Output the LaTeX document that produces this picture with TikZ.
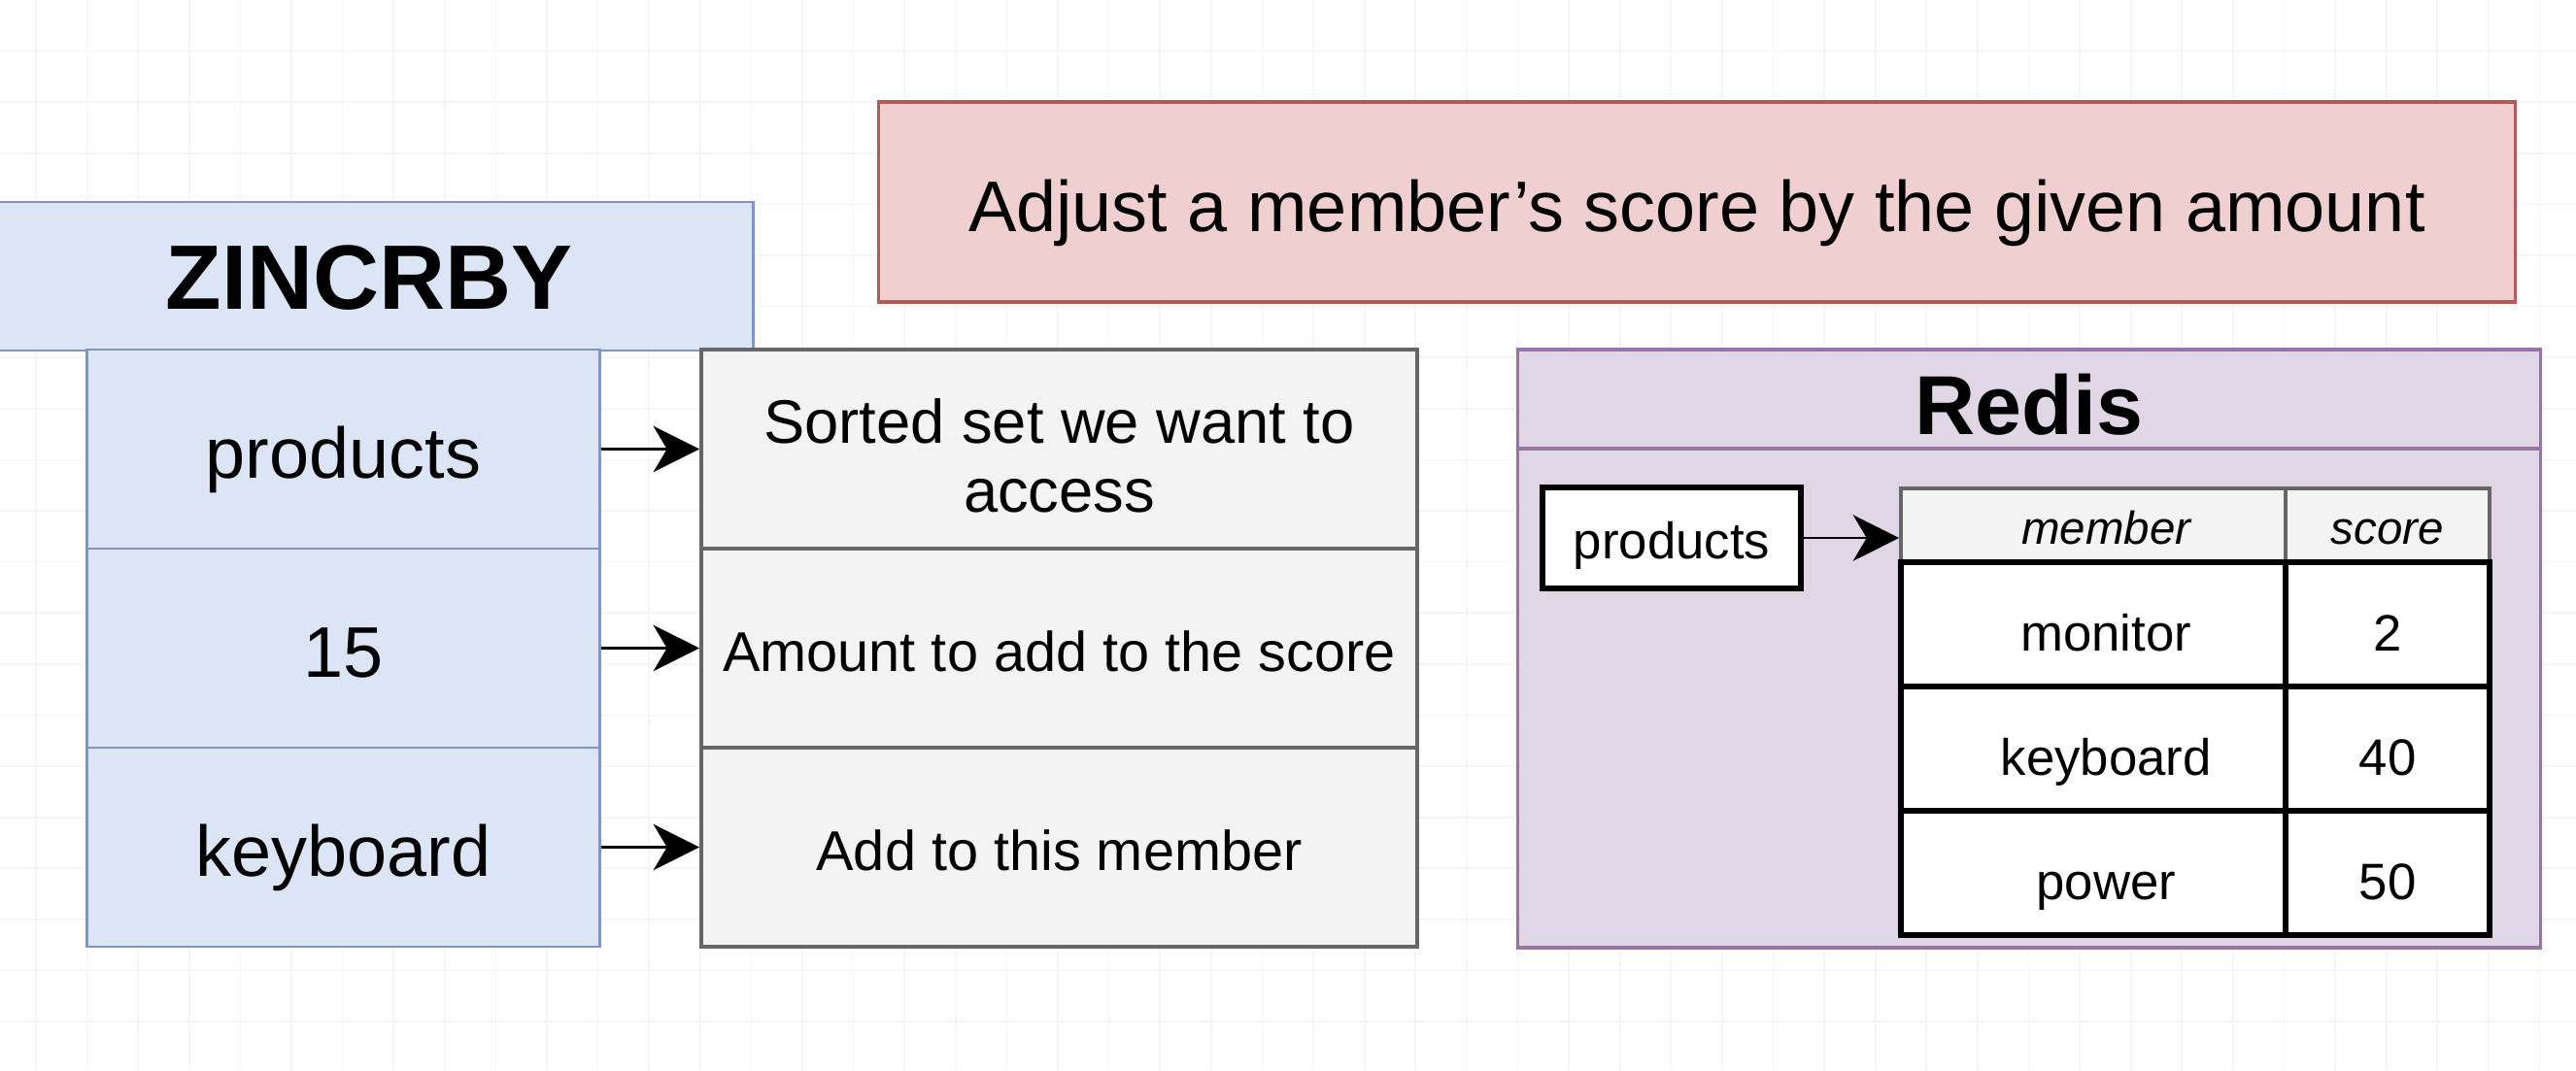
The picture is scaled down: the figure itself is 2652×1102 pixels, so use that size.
\documentclass[tikz,border=0pt]{standalone}
\usepackage{fontspec}
\setmainfont{Liberation Sans}
\usetikzlibrary{arrows.meta}
\definecolor{zblue}{HTML}{DCE5F5}
\definecolor{zblueline}{HTML}{7F95C2}
\definecolor{zgray}{HTML}{F3F3F3}
\definecolor{zgrayline}{HTML}{666666}
\definecolor{zred}{HTML}{EFCFCF}
\definecolor{zredline}{HTML}{B35A57}
\definecolor{zpurple}{HTML}{E0D6E6}
\definecolor{zpurpleline}{HTML}{9675A6}
\begin{document}
\begin{tikzpicture}[x=0.01cm,y=-0.01cm,inner sep=0pt,
  grid line/.style={draw=black!4,line width=0.5pt},
  arg node/.style={draw=zblueline,fill=zblue,line width=0.8pt,minimum width=5.27cm,minimum height=2.05cm,font=\fontsize{21}{24}\selectfont,text height=17.2pt,text depth=0pt},
  desc node/.style={draw=zgrayline,fill=zgray,line width=1pt,minimum width=7.37cm,minimum height=2.05cm,align=center,font=\fontsize{16.4}{20}\selectfont,text height=13.45pt,text depth=0pt},
  lane node/.style={draw=zpurpleline,fill=zpurple,line width=1pt,minimum width=10.52cm},
  head cell/.style={draw=zgrayline,fill=zgray,line width=1pt,minimum height=0.76cm,font=\fontsize{13.5}{16}\selectfont\itshape,text height=11.1pt,text depth=0pt},
  body cell/.style={draw=black,fill=white,line width=1.5pt,minimum height=1.28cm,font=\fontsize{15}{18}\selectfont,text height=15.4pt,text depth=0pt},
  member col/.style={minimum width=3.96cm,execute at begin node=\hspace*{7.5pt}},
  score col/.style={minimum width=2.10cm},
  conn/.style={-{Stealth[length=13.5pt,width=13.5pt,inset=4pt]},line width=0.8pt}]
  \useasboundingbox (0,0) rectangle (2652,1102);
  \fill[white] (0,0) rectangle (2652,1102);
  % background grid
  \foreach \gx in {0,...,49} \draw[grid line] (37+52.6*\gx,0) -- ++(0,1102);
  \foreach \gy in {1,...,20} \draw[grid line] (0,52.6*\gy) -- ++(2652,0);

  \node[draw=zblueline,fill=zblue,line width=0.8pt,minimum width=7.9cm,minimum height=1.53cm,font=\fontsize{26.8}{30}\selectfont\bfseries,text height=19.5pt,text depth=0pt] (cmd) at (380,284.5) {ZINCRBY};
  \node[arg node] (a1) at (353.5,462.5) {products};
  \node[arg node] (a2) at (353.5,667.5) {15};
  \node[arg node] (a3) at (353.5,872.5) {keyboard};

  \node[desc node,font=\fontsize{18}{20.2}\selectfont,text height=37.2pt,text depth=0pt] (d1) at (1090.5,462.5) {Sorted set we want to\\access};
  \node[desc node] (d2) at (1090.5,667.5) {Amount to add to the score};
  \node[desc node] (d3) at (1090.5,872.5) {Add to this member};

  \node[draw=zredline,fill=zred,line width=1pt,minimum width=16.84cm,minimum height=2.06cm,font=\fontsize{21}{24}\selectfont,text height=17.2pt,text depth=0pt] (info) at (1747,208) {Adjust a member's score by the given amount};

  \node[lane node,minimum height=1.02cm,font=\fontsize{24.5}{28}\selectfont\bfseries,text height=20.5pt,text depth=0pt] (redis) at (2089,411) {Redis};
  \node[lane node,minimum height=5.14cm] (lane) at (2089,719) {};

  \node[draw=black,fill=white,line width=1.5pt,minimum width=2.66cm,minimum height=1.04cm,font=\fontsize{15}{18}\selectfont,text height=12.3pt,text depth=0pt] (key) at (1721,554) {products};

  \node[head cell,member col] (hm) at (2155,541) {member};
  \node[head cell,score col] (hs) at (2458,541) {score};
  \node[body cell,member col] (m1) at (2155,643) {monitor};
  \node[body cell,score col] (s1) at (2458,643) {2};
  \node[body cell,member col] (m2) at (2155,771) {keyboard};
  \node[body cell,score col] (s2) at (2458,771) {40};
  \node[body cell,member col] (m3) at (2155,899) {power};
  \node[body cell,score col] (s3) at (2458,899) {50};

  \draw[conn] (a1) -- (d1);
  \draw[conn] (a2) -- (d2);
  \draw[conn] (a3) -- (d3);
  \draw[conn] (key.east) -- (key.east -| hm.west);
\end{tikzpicture}
\end{document}
